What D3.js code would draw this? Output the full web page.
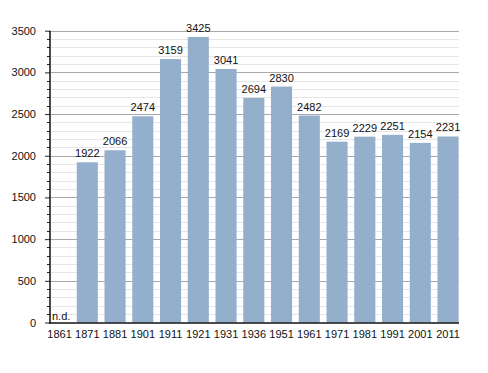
<!DOCTYPE html>
<html>
<head>
<meta charset="utf-8">
<script src="https://cdn.jsdelivr.net/npm/d3@7"></script>
<style>
  body { margin: 0; background: #fff; }
  text { font-family: "Liberation Sans", Arial, sans-serif; }
</style>
</head>
<body>
<div id="chart"></div>
<script>
// population by census year (1861 has no data)
var years = ["1861","1871","1881","1901","1911","1921","1931","1936","1951","1961","1971","1981","1991","2001","2011"];
var population = [null,1922,2066,2474,3159,3425,3041,2694,2830,2482,2169,2229,2251,2154,2231];
var yTicks = [0,500,1000,1500,2000,2500,3000,3500];

var W = 488, H = 373;
var pLeft = 50, pRight = 459, pTop = 30.7, pBottom = 322.5;

var svg = d3.select("#chart").append("svg").attr("width", W).attr("height", H);

var x = d3.scaleBand().domain(years).range([49, 465.25]).padding(0);
var y = d3.scaleLinear().domain([0, 3500]).range([pBottom, pTop]);
var barW = x.bandwidth() * 0.76;

// minor grid every 100
var minor = d3.range(100, 3501, 100).filter(function(v){ return v % 500 != 0; });
svg.append("g").selectAll("line").data(minor).enter().append("line")
  .attr("x1", pLeft).attr("x2", pRight)
  .attr("y1", function(d){ return Math.round(y(d)) + 0.5; })
  .attr("y2", function(d){ return Math.round(y(d)) + 0.5; })
  .attr("stroke", "#e6e6e6").attr("stroke-width", 1);

// major grid
svg.append("g").selectAll("line").data(yTicks.slice(1)).enter().append("line")
  .attr("x1", pLeft).attr("x2", pRight)
  .attr("y1", function(d){ return Math.round(y(d)) + 0.5; })
  .attr("y2", function(d){ return Math.round(y(d)) + 0.5; })
  .attr("stroke", "#a8a8a8").attr("stroke-width", 1);

// bars
var rows = years.map(function(yr, i){ return {year: yr, val: population[i]}; });
svg.append("g").selectAll("rect").data(rows.filter(function(d){ return d.val != null; }))
  .enter().append("rect")
  .attr("x", function(d){ return x(d.year); })
  .attr("width", barW)
  .attr("y", function(d){ return y(d.val); })
  .attr("height", function(d){ return pBottom - y(d.val); })
  .attr("fill", "#94afcb");

// value labels
svg.append("g").selectAll("text").data(rows).enter().append("text")
  .attr("x", function(d){ return d.val == null ? x(d.year) + 3 : x(d.year) + barW / 2; })
  .attr("y", function(d){ return d.val == null ? pBottom - 3 : y(d.val) - 5; })
  .attr("text-anchor", function(d){ return d.val == null ? "start" : "middle"; })
  .attr("font-size", "11px").attr("fill", "#111")
  .text(function(d){ return d.val == null ? "n.d." : d.val; });

// y axis
var yAxis = d3.axisLeft(y).tickValues(yTicks).tickSize(5).tickFormat(d3.format("d"));
var gy = svg.append("g").attr("transform", "translate(" + pLeft + ",0)").call(yAxis);
gy.select(".domain").remove();
gy.selectAll("text").attr("font-size", "11px").attr("fill", "#111").attr("x", -14)
  .style("font-family", "Liberation Sans, Arial, sans-serif");
gy.selectAll(".tick line").attr("stroke", "#222");
svg.append("g").selectAll("line").data(minor).enter().append("line")
  .attr("x1", pLeft - 3).attr("x2", pLeft)
  .attr("y1", function(d){ return Math.round(y(d)) + 0.5; })
  .attr("y2", function(d){ return Math.round(y(d)) + 0.5; })
  .attr("stroke", "#222");
svg.append("line").attr("x1", pLeft).attr("x2", pLeft).attr("y1", pTop).attr("y2", pBottom + 1)
  .attr("stroke", "#111").attr("stroke-width", 1.5);

// x axis
svg.append("line").attr("x1", pLeft - 1).attr("x2", pRight).attr("y1", pBottom + 0.5).attr("y2", pBottom + 0.5)
  .attr("stroke", "#111").attr("stroke-width", 1.5);
svg.append("g").selectAll("text").data(years).enter().append("text")
  .attr("x", function(d){ return x(d) + barW / 2; })
  .attr("y", pBottom + 15)
  .attr("text-anchor", "middle")
  .attr("font-size", "11px").attr("fill", "#111")
  .text(function(d){ return d; });
</script>
</body>
</html>
